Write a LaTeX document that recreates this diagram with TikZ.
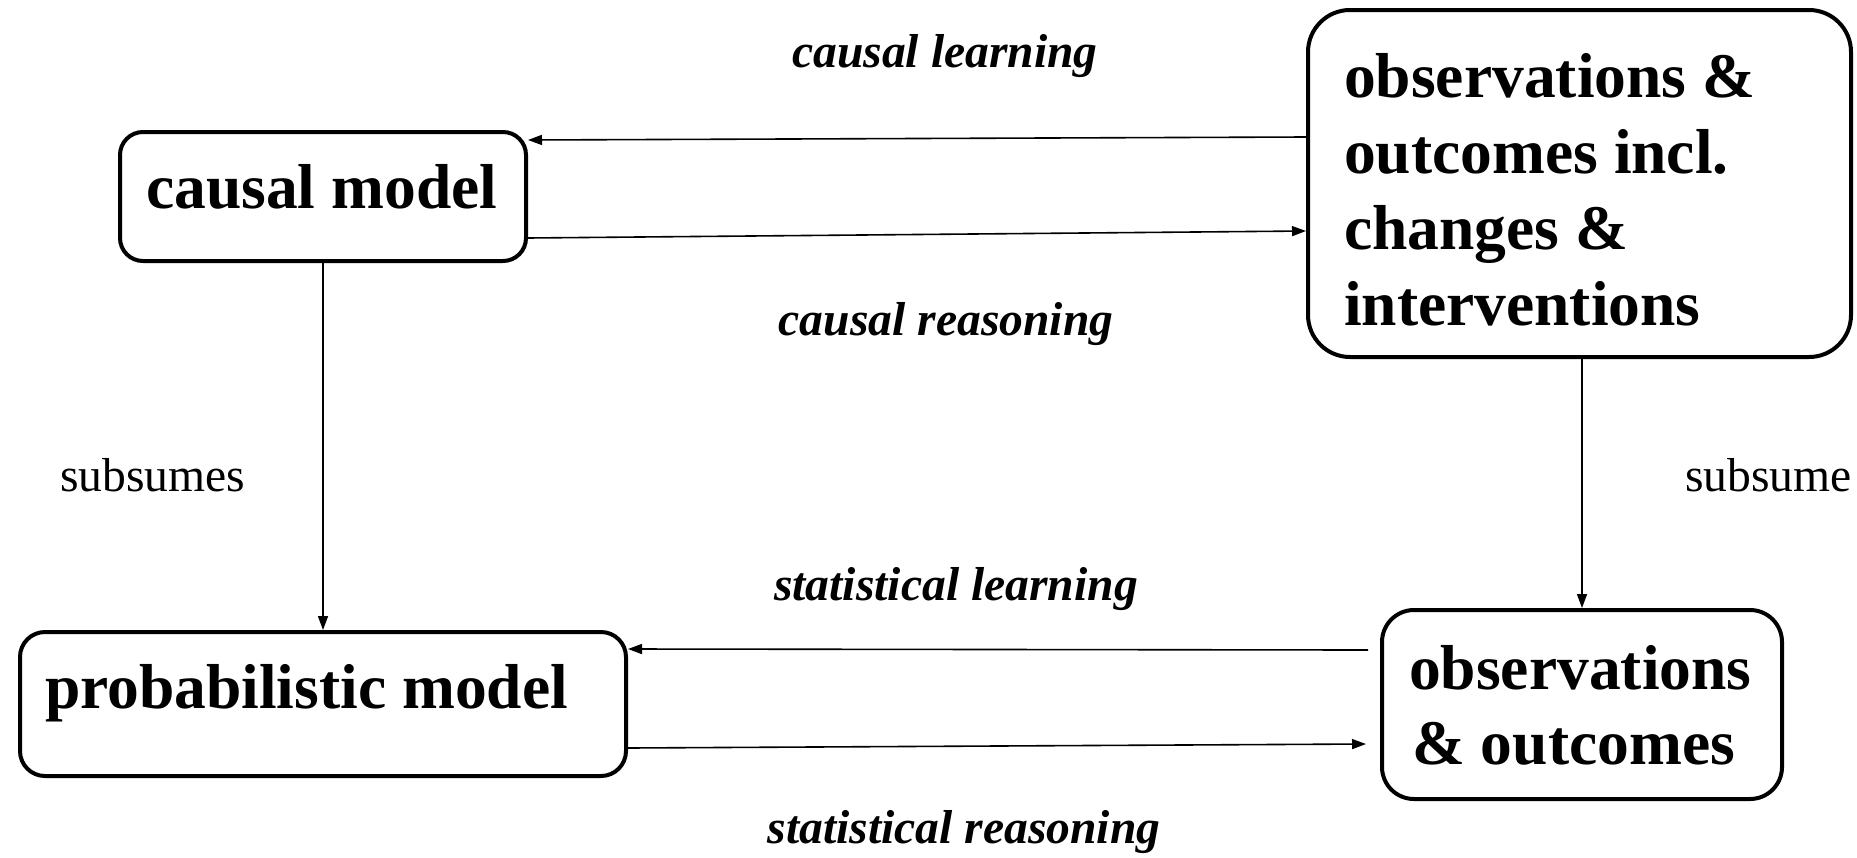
\documentclass[tikz,border=0pt]{standalone}
\usepackage{fontspec}
\setmainfont{Liberation Serif}
\usetikzlibrary{arrows.meta,calc}
\begin{document}
\begin{tikzpicture}[x=1pt,y=-1pt,
  box/.style={draw, line width=4pt, inner sep=0pt, fill=white},
  boxtext/.style={anchor=base west, inner sep=0pt, font=\bfseries\fontsize{63.5}{76}\selectfont},
  flow/.style={line width=1.6pt, -{Triangle[length=14pt,width=10pt]}},
  edgelabel/.style={anchor=base, inner sep=0pt, font=\bfseries\itshape\fontsize{47.6}{57}\selectfont},
  sidelabel/.style={anchor=base west, inner sep=0pt, font=\fontsize{47.6}{57}\selectfont}]
\useasboundingbox (0,0) rectangle (1857,857);

% boxes
\node[box, rounded corners=23pt, minimum width=406pt, minimum height=129pt] (cm) at (323,196.5) {};
\node[box, rounded corners=42pt, minimum width=543pt, minimum height=347pt] (ci) at (1579.5,183.5) {};
\node[box, rounded corners=25pt, minimum width=606pt, minimum height=144pt] (pm) at (323,704) {};
\node[box, rounded corners=32pt, minimum width=400pt, minimum height=189pt] (oo) at (1582,704.5) {};

% box texts
\node[boxtext] (cmt) at (146,208) {causal model};
\node[boxtext] (cit1) at (1344,97) {observations \&};
\node[boxtext] (cit2) at (1344,173) {outcomes incl.};
\node[boxtext] (cit3) at (1344,249) {changes \&};
\node[boxtext] (cit4) at (1344,325) {interventions};
\node[boxtext] (pmt) at (45,708) {probabilistic model};
\node[boxtext] (oot1) at (1409,689) {observations};
\node[boxtext] (oot2) at (1412,764) {\& outcomes};

% connectors
\draw[flow] ($(ci.west)+(0,-46.5)$) -- ($(cm.east)+(0,-56.5)$);
\draw[flow] ($(cm.east)+(0,41.5)$) -- ($(ci.west)+(0,47.5)$);
\draw[flow] (cm.south) -- (pm.north);
\draw[flow] ($(ci.south)+(2.5,0)$) -- (oo.north);
\draw[flow] ($(oo.west)+(-12,-54.5)$) -- ($(pm.east)+(0,-55)$);
\draw[flow] ($(pm.east)+(0,44)$) -- ($(oo.west)+(-14,39.5)$);

% connector labels
\node[edgelabel] (l1) at (945,67) {causal learning};
\node[edgelabel] (l2) at (946,335) {causal reasoning};
\node[edgelabel] (l3) at (956,600) {statistical learning};
\node[edgelabel] (l4) at (964,843) {statistical reasoning};
\node[sidelabel] (l5) at (60,491) {subsumes};
\node[sidelabel] (l6) at (1685,491) {subsume};
\end{tikzpicture}
\end{document}
